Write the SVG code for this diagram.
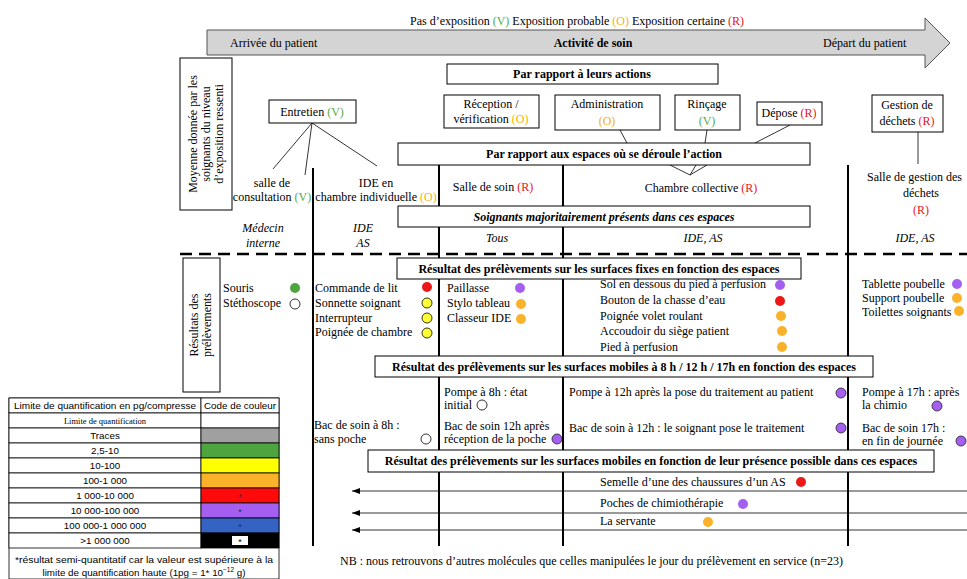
<svg xmlns="http://www.w3.org/2000/svg" width="967" height="579" viewBox="0 0 967 579">
<defs>
<style>
.t{font-family:"Liberation Serif","Times New Roman",serif;font-size:12px;fill:#000}
.b{font-weight:bold}
.i{font-style:italic}
.m{text-anchor:middle}
.box{fill:#fff;stroke:#000;stroke-width:1}
.vl{stroke:#000;stroke-width:2;fill:none}
.ln{stroke:#000;stroke-width:0.8;fill:none}
.ar{stroke:#000;stroke-width:0.8;fill:none;marker-start:url(#ah)}
.cV{fill:#5aa845}
.cO{fill:#f5b300}
.cR{fill:#e8141e}
.dG{fill:#4ea540}
.dY{fill:#ffff33;stroke:#000;stroke-width:0.8}
.dO{fill:#f9b22a}
.dR{fill:#ec1818}
.dP{fill:#a45ff0}
.dPs{fill:#a45ff0;stroke:#222;stroke-width:0.8}
.dW{fill:#fff;stroke:#000;stroke-width:0.8}
.lg{font-family:"Liberation Sans",Arial,sans-serif;font-size:9.8px;fill:#000;text-anchor:middle}
.cell{fill:#fff;stroke:#000;stroke-width:0.8}
.star{font-family:"Liberation Sans",Arial,sans-serif;font-size:9px;fill:#1c2a6e;text-anchor:middle}
</style>
<marker id="ah" viewBox="0 0 8 6" refX="0" refY="3" markerWidth="8" markerHeight="6" orient="auto" markerUnits="userSpaceOnUse">
<path d="M8,0 L0,3 L8,6 Z" fill="#000"/>
</marker>
</defs>
<rect width="967" height="579" fill="#fff"/>

<g id="timeline">
<polygon points="207,30 925,30 925,18 950,43 925,68 925,55 207,55" fill="#d4d4d4" stroke="#555" stroke-width="1"/>
<text class="t" x="410" y="25">Pas d’exposition <tspan class="cV">(V)</tspan> Exposition probable <tspan class="cO">(O)</tspan> Exposition certaine <tspan class="cR">(R)</tspan></text>
<text class="t" x="230" y="47">Arrivée du patient</text>
<text class="t b m" x="593" y="47">Activité de soin</text>
<text class="t" x="823" y="47">Départ du patient</text>
</g>

<g id="connectors">
<line class="ln" x1="312" y1="123" x2="273" y2="169"/>
<line class="ln" x1="312" y1="123" x2="305" y2="175"/>
<line class="ln" x1="312" y1="123" x2="377" y2="166"/>
<line class="ln" x1="620" y1="130" x2="627" y2="143"/>
<line class="ln" x1="707" y1="130" x2="705" y2="143"/>
<line class="ln" x1="790" y1="125" x2="755" y2="143"/>
<line class="ln" x1="918" y1="132" x2="918" y2="164"/>
<line class="ln" x1="670" y1="165" x2="690" y2="175"/>
<line class="ln" x1="696" y1="165" x2="690" y2="175"/>
<line class="ln" x1="707" y1="165" x2="690" y2="175"/>
<line class="vl" x1="313" y1="168" x2="313" y2="546"/>
<line class="vl" x1="439" y1="165" x2="439" y2="546"/>
<line class="vl" x1="563" y1="165" x2="563" y2="546"/>
<line class="vl" x1="848" y1="165" x2="848" y2="546"/>
<line x1="180" y1="254" x2="967" y2="254" stroke="#000" stroke-width="2.5" stroke-dasharray="12 7"/>
<line class="ar" x1="352" y1="491" x2="967" y2="491"/>
<line class="ar" x1="352" y1="513" x2="967" y2="513"/>
<line class="ar" x1="352" y1="530" x2="967" y2="530"/>
</g>

<g id="moyenne">
<rect class="box" x="180" y="58" width="52" height="152"/>
<g transform="translate(206,134) rotate(-90)">
<text class="t m" x="0" y="-9">Moyenne donnée par les</text>
<text class="t m" x="0" y="4">soignants du niveau</text>
<text class="t m" x="0" y="17">d’exposition ressenti</text>
</g>
</g>

<g id="actions">
<rect class="box" x="447" y="64" width="271" height="20"/>
<text class="t b m" x="582" y="78">Par rapport à leurs actions</text>
</g>

<g id="entretien">
<rect class="box" x="269" y="100" width="87" height="23"/>
<text class="t m" x="312" y="116">Entretien <tspan class="cV">(V)</tspan></text>
</g>

<g id="reception">
<rect class="box" x="444" y="95" width="95" height="33"/>
<text class="t m" x="491" y="108">Réception /</text>
<text class="t m" x="491" y="123">vérification <tspan class="cO">(O)</tspan></text>
</g>

<g id="administration">
<rect class="box" x="555" y="95" width="105" height="35"/>
<text class="t m" x="607" y="108">Administration</text>
<text class="t m cO" x="607" y="125">(O)</text>
</g>

<g id="rincage">
<rect class="box" x="675" y="95" width="65" height="35"/>
<text class="t m" x="707" y="108">Rinçage</text>
<text class="t m cV" x="707" y="125">(V)</text>
</g>

<g id="depose">
<rect class="box" x="757" y="102" width="65" height="23"/>
<text class="t m" x="789" y="117">Dépose <tspan class="cR">(R)</tspan></text>
</g>

<g id="gestion">
<rect class="box" x="872" y="95" width="71" height="37"/>
<text class="t m" x="907" y="109">Gestion de</text>
<text class="t m" x="907" y="125">déchets <tspan class="cR">(R)</tspan></text>
</g>

<g id="espaces">
<rect class="box" x="398" y="143" width="412" height="22"/>
<text class="t b m" x="604" y="158">Par rapport aux espaces où se déroule l’action</text>
</g>

<g id="lieux">
<text class="t m" x="272" y="187">salle de</text>
<text class="t m" x="272" y="201">consultation <tspan class="cV">(V)</tspan></text>
<text class="t m" x="376" y="187">IDE en</text>
<text class="t m" x="376" y="201">chambre individuelle <tspan class="cO">(O)</tspan></text>
<text class="t m" x="493" y="191">Salle de soin <tspan class="cR">(R)</tspan></text>
<text class="t m" x="701" y="192">Chambre collective <tspan class="cR">(R)</tspan></text>
<text class="t" x="867" y="181">Salle de gestion des</text>
<text class="t m" x="921" y="197">déchets</text>
<text class="t m cR" x="921" y="214">(R)</text>
</g>

<g id="soignants">
<rect class="box" x="398" y="206" width="412" height="21"/>
<text class="t b i m" x="604" y="221">Soignants majoritairement présents dans ces espaces</text>
<text class="t i m" x="263" y="232">Médecin</text>
<text class="t i m" x="263" y="247">interne</text>
<text class="t i m" x="363" y="232">IDE</text>
<text class="t i m" x="363" y="247">AS</text>
<text class="t i m" x="497" y="242">Tous</text>
<text class="t i m" x="703" y="242">IDE, AS</text>
<text class="t i m" x="915" y="242">IDE, AS</text>
</g>

<g id="resultats">
<rect class="box" x="183" y="258" width="37" height="134"/>
<g transform="translate(201,325) rotate(-90)">
<text class="t m" x="0" y="-3">Résultats des</text>
<text class="t m" x="0" y="10">prélèvements</text>
</g>
</g>

<g id="fixes">
<rect class="box" x="397" y="258" width="404" height="21"/>
<text class="t b m" x="599" y="273">Résultat des prélèvements sur les surfaces fixes en fonction des espaces</text>
<text class="t" x="223" y="292">Souris</text>
<circle class="dG" cx="295" cy="288" r="5"/>
<text class="t" x="223" y="307">Stéthoscope</text>
<circle class="dW" cx="295" cy="304" r="5"/>
<text class="t" x="315" y="292">Commande de lit</text>
<circle class="dR" cx="427" cy="287" r="5"/>
<text class="t" x="315" y="307">Sonnette soignant</text>
<circle class="dY" cx="427" cy="303" r="5"/>
<text class="t" x="315" y="322">Interrupteur</text>
<circle class="dY" cx="427" cy="318" r="5"/>
<text class="t" x="315" y="336">Poignée de chambre</text>
<circle class="dY" cx="427" cy="333" r="5"/>
<text class="t" x="447" y="292">Paillasse</text>
<circle class="dP" cx="520" cy="288" r="5"/>
<text class="t" x="447" y="307">Stylo tableau</text>
<circle class="dO" cx="521" cy="304" r="5"/>
<text class="t" x="447" y="322">Classeur IDE</text>
<circle class="dO" cx="521" cy="319" r="5"/>
<text class="t" x="600" y="288">Sol en dessous du pied à perfusion</text>
<circle class="dP" cx="780" cy="285" r="5"/>
<text class="t" x="600" y="304">Bouton de la chasse d’eau</text>
<circle class="dR" cx="780" cy="301" r="5"/>
<text class="t" x="600" y="320">Poignée volet roulant</text>
<circle class="dO" cx="781" cy="316" r="5"/>
<text class="t" x="600" y="335">Accoudoir du siège patient</text>
<circle class="dO" cx="782" cy="331" r="5"/>
<text class="t" x="600" y="351">Pied à perfusion</text>
<circle class="dO" cx="782" cy="347" r="5"/>
<text class="t" x="862" y="288">Tablette poubelle</text>
<circle class="dP" cx="957" cy="284" r="5"/>
<text class="t" x="862" y="302">Support poubelle</text>
<circle class="dO" cx="957" cy="298" r="5"/>
<text class="t" x="862" y="316">Toilettes soignants</text>
<circle class="dO" cx="959" cy="311" r="5"/>
</g>

<g id="mobiles-horaires">
<rect class="box" x="375" y="356" width="498" height="21"/>
<text class="t b m" x="624" y="371">Résultat des prélèvements sur les surfaces mobiles à 8 h / 12 h / 17h en fonction des espaces</text>
<text class="t" x="314" y="429">Bac de soin à 8h :</text>
<text class="t" x="314" y="443">sans poche</text>
<circle class="dW" cx="426" cy="439" r="5"/>
<text class="t" x="444" y="396">Pompe à 8h : état</text>
<text class="t" x="444" y="409">initial</text>
<circle class="dW" cx="482" cy="405" r="5"/>
<text class="t" x="444" y="430">Bac de soin 12h après</text>
<text class="t" x="444" y="443">réception de la poche</text>
<circle class="dPs" cx="557" cy="439" r="5"/>
<text class="t" x="569" y="396">Pompe à 12h après la pose du traitement au patient</text>
<circle class="dPs" cx="841" cy="393" r="5"/>
<text class="t" x="569" y="432">Bac de soin à 12h : le soignant pose le traitement</text>
<circle class="dPs" cx="841" cy="428" r="5"/>
<text class="t" x="862" y="396">Pompe à 17h : après</text>
<text class="t" x="862" y="409">la chimio</text>
<circle class="dPs" cx="937" cy="406" r="5"/>
<text class="t" x="862" y="432">Bac de soin 17h :</text>
<text class="t" x="862" y="445">en fin de journée</text>
<circle class="dPs" cx="961" cy="441" r="5"/>
</g>

<g id="mobiles-presence">
<rect class="box" x="368" y="450" width="566" height="22"/>
<text class="t b m" x="651" y="465">Résultat des prélèvements sur les surfaces mobiles en fonction de leur présence possible dans ces espaces</text>
<text class="t" x="600" y="486">Semelle d’une des chaussures d’un AS</text>
<circle class="dR" cx="801" cy="482" r="5"/>
<text class="t" x="600" y="507">Poches de chimiothérapie</text>
<circle class="dP" cx="743" cy="504" r="5"/>
<text class="t" x="600" y="525">La servante</text>
<circle class="dO" cx="708" cy="522" r="5"/>
</g>

<g id="nb">
<text class="t" x="340" y="565">NB : nous retrouvons d’autres molécules que celles manipulées le jour du prélèvement en service (n=23)</text>
</g>

<g id="legende">
<rect class="cell" x="9" y="398" width="270" height="181"/>
<rect class="cell" x="9" y="398" width="192" height="15"/><rect class="cell" x="201" y="398" width="78" height="15"/>
<text class="lg" x="105" y="409" textLength="182" lengthAdjust="spacingAndGlyphs">Limite de quantification en pg/compresse</text>
<text class="lg" x="240" y="409" textLength="72" lengthAdjust="spacingAndGlyphs">Code de couleur</text>
<rect class="cell" x="9" y="413" width="192" height="15"/><rect class="cell" x="201" y="413" width="78" height="15"/>
<text class="t m" style="font-size:8.5px" x="105" y="424">Limite de quantification</text>
<rect class="cell" x="9" y="428" width="192" height="15"/><rect x="201" y="428" width="78" height="15" fill="#a0a0a0" stroke="#000" stroke-width="0.8"/>
<text class="lg" x="105" y="439">Traces</text>
<rect class="cell" x="9" y="443" width="192" height="15"/><rect x="201" y="443" width="78" height="15" fill="#4ea540" stroke="#000" stroke-width="0.8"/>
<text class="lg" x="105" y="454">2,5-10</text>
<rect class="cell" x="9" y="458" width="192" height="15"/><rect x="201" y="458" width="78" height="15" fill="#ffff00" stroke="#000" stroke-width="0.8"/>
<text class="lg" x="105" y="469">10-100</text>
<rect class="cell" x="9" y="473" width="192" height="15"/><rect x="201" y="473" width="78" height="15" fill="#f9b22a" stroke="#000" stroke-width="0.8"/>
<text class="lg" x="105" y="484">100-1 000</text>
<rect class="cell" x="9" y="488" width="192" height="15"/><rect x="201" y="488" width="78" height="15" fill="#ff0a0a" stroke="#000" stroke-width="0.8"/>
<text class="lg" x="105" y="499">1 000-10 000</text>
<text class="star" x="240" y="500">*</text>
<rect class="cell" x="9" y="503" width="192" height="15"/><rect x="201" y="503" width="78" height="15" fill="#a45ff0" stroke="#000" stroke-width="0.8"/>
<text class="lg" x="105" y="514">10 000-100 000</text>
<text class="star" x="240" y="515">*</text>
<rect class="cell" x="9" y="518" width="192" height="15"/><rect x="201" y="518" width="78" height="15" fill="#3463c4" stroke="#000" stroke-width="0.8"/>
<text class="lg" x="105" y="529">100 000-1 000 000</text>
<text class="star" x="240" y="530">*</text>
<rect class="cell" x="9" y="533" width="192" height="15"/><rect x="201" y="533" width="78" height="15" fill="#000" stroke="#000" stroke-width="0.8"/>
<text class="lg" x="105" y="544">&gt;1 000 000</text>
<rect x="232" y="536" width="16" height="9" fill="#fff"/>
<text class="star" style="fill:#000" x="240" y="545">*</text>
<text class="lg" x="144" y="563" textLength="258" lengthAdjust="spacingAndGlyphs">*résultat semi-quantitatif car la valeur est supérieure à la</text>
<text class="lg" x="144" y="576">limite de quantification haute (1pg = 1* 10<tspan dy="-4" font-size="6.5px">−12</tspan><tspan dy="4"> g)</tspan></text>
</g>
</svg>
